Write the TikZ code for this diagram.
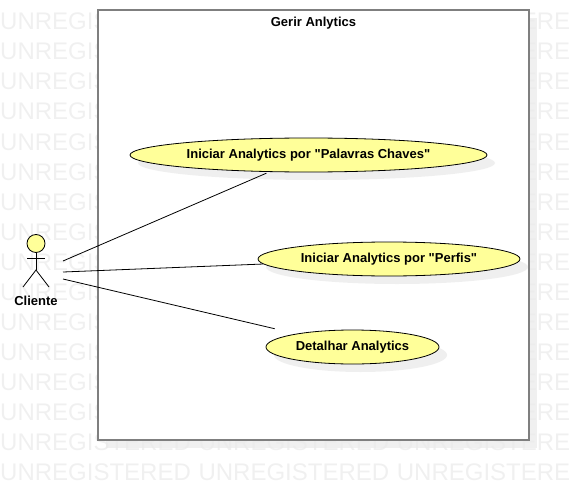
\documentclass[tikz,border=0pt]{standalone}
\usepackage{fontspec}
\setmainfont[Ligatures=TeXOff]{Liberation Sans}
\usetikzlibrary{shapes.geometric}
\definecolor{usefill}{HTML}{FFFF99}
\definecolor{markgray}{HTML}{F0F0F0}
\definecolor{shadegray}{HTML}{ECECEC}
\definecolor{framegray}{HTML}{7F7F7F}
\tikzset{
  mark text/.style={anchor=base west, inner sep=0pt, text=markgray, font=\fontsize{24}{24}\selectfont},
  usecase/.style={ellipse, draw=black, fill=usefill, line width=0.8pt, inner sep=0pt, font=\bfseries\fontsize{13}{13}\selectfont},
  case shade/.style={ellipse, fill=shadegray, fill opacity=0.8, inner sep=0pt},
  label text/.style={font=\bfseries\fontsize{13}{13}\selectfont, inner sep=0pt},
  link/.style={line width=0.8pt}
}
\begin{document}
\begin{tikzpicture}[x=1pt,y=-1pt]

  \useasboundingbox (0,0) rectangle (569,481);

  % Watermark rows
  \foreach \y in {0,...,15}{
    \node[mark text] at (0,{30+30*\y}) {UNREGISTERED\hspace{1pt} UNREGISTERED\hspace{1pt} UNREGISTERE};
  }

  % Frame with its shadow
  \fill[shadegray, fill opacity=0.8] (106,18) rectangle (537,448);
  \draw[framegray, line width=2pt, fill=white] (98,10) rectangle (529,440);
  \node[label text] (frametitle) at (313.5,23.5) {Gerir Anlytics};

  % Shadows of the use cases
  \node[case shade, minimum width=357pt, minimum height=34pt] at (316.5,163) {};
  \node[case shade, minimum width=262pt, minimum height=34pt] at (397,267) {};
  \node[case shade, minimum width=173pt, minimum height=34pt] at (360.5,355) {};

  % Use cases
  \node[usecase, minimum width=357pt, minimum height=34pt] (palavras) at (308.5,155) {\raisebox{-1.2pt}{Iniciar Analytics por "Palavras Chaves"}};
  \node[usecase, minimum width=262pt, minimum height=34pt] (perfis) at (389,259) {\raisebox{-1.2pt}{Iniciar Analytics por "Perfis"}};
  \node[usecase, minimum width=173pt, minimum height=34pt] (detalhar) at (352.5,347) {\raisebox{-1.2pt}{Detalhar Analytics}};

  % Actor
  \draw[line width=0.8pt, fill=usefill] (36,243.5) circle (9);
  \draw[line width=0.8pt] (27,258) -- (45,258);
  \draw[line width=0.8pt] (36,252.5) -- (36,270);
  \draw[line width=0.8pt] (23,287) -- (36,270) -- (49,287);
  \node[label text] (cliente) at (36,301) {Cliente};

  % Free ends beside the actor
  \coordinate (top) at (63,261);
  \coordinate (mid) at (63,272);
  \coordinate (low) at (63,279);

  % Links
  \draw[link, shorten >=3pt] (top) -- (palavras);
  \draw[link] (mid) -- (perfis);
  \draw[link, shorten >=22pt] (low) -- (detalhar);

\end{tikzpicture}
\end{document}
